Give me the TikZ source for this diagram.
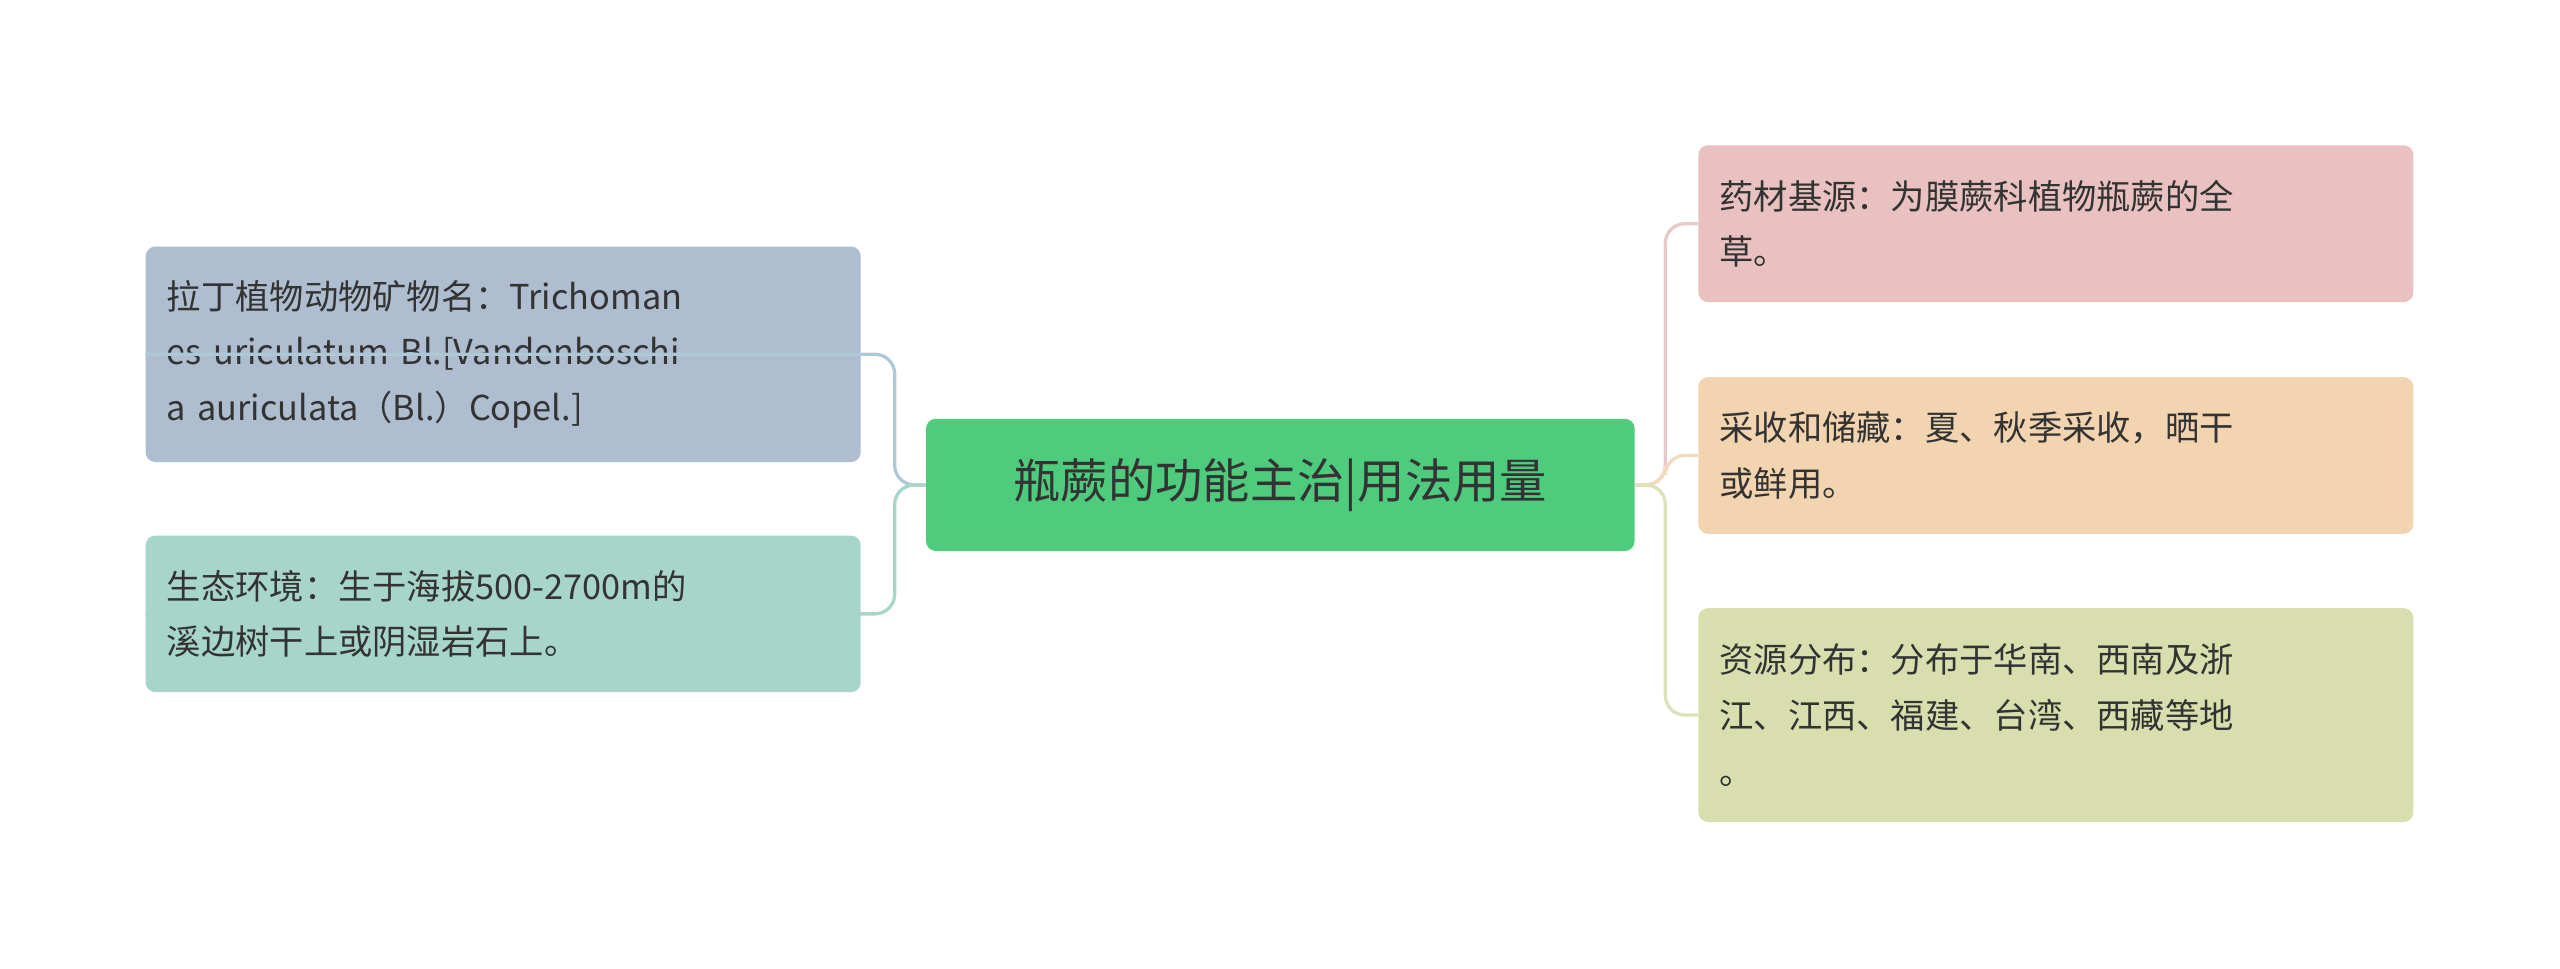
\documentclass[tikz,border=0pt]{standalone}
\usepackage{fontspec}
\setmainfont{Noto Sans CJK SC}
\begin{document}
\begin{tikzpicture}[x=1pt,y=1pt,
  box/.style={rounded corners=6pt,anchor=west,align=left,text width=#1,inner xsep=13pt,inner ysep=0pt,font=\fontsize{21}{34}\selectfont,text=black!80},
  lk/.style={line width=2pt,rounded corners=12pt}]
\useasboundingbox (0,0) rectangle (1568,-593);
\node[box=408pt,fill={rgb,255:red,79;green,203;blue,126},minimum height=81pt,font=\fontsize{29}{34}\selectfont,text width=408pt,align=center] (c) at (567,-297) {瓶蕨的功能主治|用法用量};
\node[box=412pt,fill={rgb,255:red,174;green,189;blue,208},minimum height=132pt] (l1) at (89,-217) {拉丁植物动物矿物名：Trichoman\\es uriculatum Bl.[Vandenboschi\\a auriculata（Bl.）Copel.]};
\node[box=412pt,fill={rgb,255:red,168;green,213;blue,201},minimum height=96pt] (l2) at (89,-376) {生态环境：生于海拔500-2700m的\\溪边树干上或阴湿岩石上。};
\node[box=412pt,fill={rgb,255:red,232;green,193;blue,192},minimum height=96pt] (r1) at (1040,-137) {药材基源：为膜蕨科植物瓶蕨的全\\草。};
\node[box=412pt,fill={rgb,255:red,243;green,212;blue,176},minimum height=96pt] (r2) at (1040,-279) {采收和储藏：夏、秋季采收，晒干\\或鲜用。};
\node[box=412pt,fill={rgb,255:red,217;green,222;blue,174},minimum height=131pt] (r3) at (1040,-438) {资源分布：分布于华南、西南及浙\\江、江西、福建、台湾、西藏等地\\。};
\coordinate (lj) at (548,-297);
\coordinate (rj) at (1020,-297);
\draw[lk,draw={rgb,255:red,174;green,200;blue,214}] (c.west) -- (lj) |- (l1.west);
\draw[lk,draw={rgb,255:red,168;green,213;blue,201}] (c.west) -- (lj) |- (l2.west);
\draw[lk,draw={rgb,255:red,232;green,200;blue,200}] (c.east) -- (rj) |- (r1.west);
\draw[lk,draw={rgb,255:red,243;green,218;blue,190}] (c.east) -- (rj) |- (r2.west);
\draw[lk,draw={rgb,255:red,222;green,226;blue,186}] (c.east) -- (rj) |- (r3.west);
\end{tikzpicture}
\end{document}
